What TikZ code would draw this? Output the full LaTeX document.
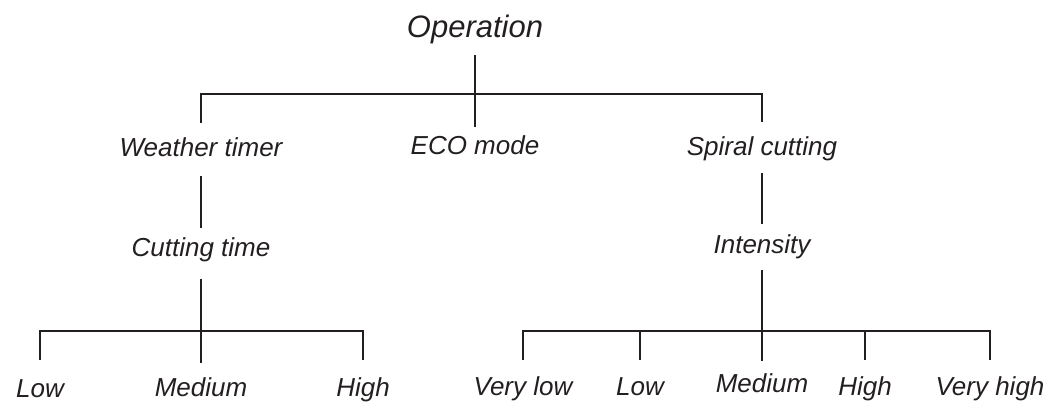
\documentclass[tikz,border=0pt]{standalone}
\usepackage{fontspec}
\setmainfont{Liberation Sans}
\definecolor{ink}{HTML}{231F20}
\tikzset{
  lbl/.style={anchor=base, inner sep=0pt, text=ink, font=\itshape\fontsize{26}{30}\selectfont},
  toplbl/.style={lbl, font=\itshape\fontsize{31}{36}\selectfont},
  branch/.style={draw=ink, line width=2.8pt}
}
\begin{document}
\begin{tikzpicture}[x=1pt,y=-1pt]
    \useasboundingbox (0,0) rectangle (1059,406);
    % root and first level
    \node[toplbl] (op) at (475,38) {Operation};
    \node[lbl] (wt) at (201,157) {Weather timer};
    \node[lbl] (eco) at (475,155) {ECO mode};
    \node[lbl] (sc) at (762,156) {Spiral cutting};
    \coordinate (barT) at (475,94);
    \draw[branch] ([yshift=-17pt]op.base) -- ([yshift=28pt]eco.base);
    \draw[branch] ([yshift=34pt]wt.base) |- (barT) -| ([yshift=34pt]sc.base);
    % second level
    \node[lbl] (ct) at (201,256) {Cutting time};
    \node[lbl] (in) at (762,253) {Intensity};
    \draw[branch] ([yshift=-19pt]wt.base) -- ([yshift=28pt]ct.base);
    \draw[branch] ([yshift=-17pt]sc.base) -- ([yshift=29pt]in.base);
    % cutting time levels
    \node[lbl] (llow) at (40,397) {Low};
    \node[lbl] (lmed) at (201,396) {Medium};
    \node[lbl] (lhigh) at (363,396) {High};
    \coordinate (barL) at (201,331);
    \draw[branch] ([yshift=-23pt]ct.base) -- ([yshift=33pt]lmed.base);
    \draw[branch] ([yshift=37pt]llow.base) |- (barL) -| ([yshift=36pt]lhigh.base);
    % intensity levels
    \node[lbl] (rvl) at (523,395) {Very low};
    \node[lbl] (rlow) at (640,395) {Low};
    \node[lbl] (rmed) at (762,392) {Medium};
    \node[lbl] (rhigh) at (865,395) {High};
    \node[lbl] (rvh) at (990,395) {Very high};
    \coordinate (barR) at (762,331);
    \draw[branch] ([yshift=-17pt]in.base) -- ([yshift=31pt]rmed.base);
    \draw[branch] ([yshift=35pt]rvl.base) |- (barR) -| ([yshift=35pt]rvh.base);
    \draw[branch] ([yshift=35pt]rlow.base) -- (rlow |- barR);
    \draw[branch] ([yshift=35pt]rhigh.base) -- (rhigh |- barR);
\end{tikzpicture}
\end{document}
